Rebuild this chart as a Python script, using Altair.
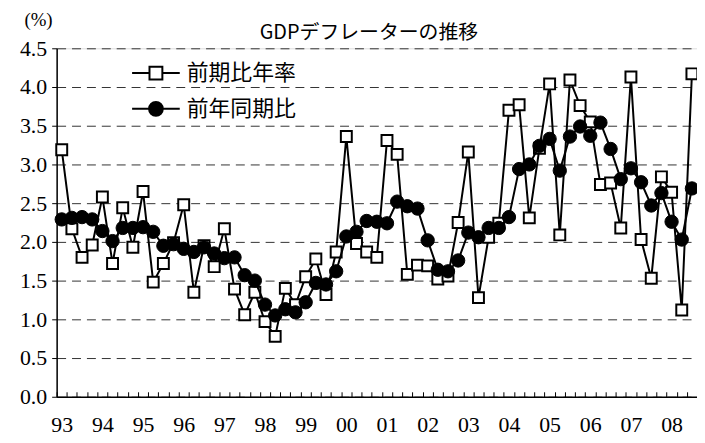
import json
import altair as alt
import pandas as pd

# ---- data ----
years = ["93", "94", "95", "96", "97", "98", "99", "00",
         "01", "02", "03", "04", "05", "06", "07", "08"]
quarters = [f"{y}Q{q}" for y in years for q in (1, 2, 3, 4)][:63]

series_names = ["前期比年率", "前年同期比"]

qoq_annual = [3.19, 2.17, 1.80, 1.96, 2.58, 1.72, 2.44, 1.93, 2.65, 1.48,
              1.72, 1.99, 2.48, 1.35, 1.95, 1.68, 2.17, 1.39, 1.06, 1.35,
              0.97, 0.78, 1.40, 1.19, 1.55, 1.78, 1.32, 1.87, 3.36, 1.98,
              1.87, 1.80, 3.31, 3.13, 1.58, 1.70, 1.69, 1.52, 1.56, 2.25,
              3.16, 1.28, 2.06, 2.24, 3.70, 3.77, 2.31, 3.21, 4.04, 2.09,
              4.09, 3.76, 3.55, 2.74, 2.76, 2.18, 4.13, 2.03, 1.53, 2.84,
              2.64, 1.12, 4.17]

yoy = [2.29, 2.31, 2.32, 2.29, 2.14, 2.01, 2.18, 2.18, 2.19, 2.13,
       1.95, 1.97, 1.91, 1.87, 1.93, 1.85, 1.79, 1.80, 1.57, 1.50,
       1.19, 1.05, 1.13, 1.09, 1.22, 1.47, 1.45, 1.62, 2.07, 2.13,
       2.27, 2.26, 2.24, 2.52, 2.46, 2.43, 2.02, 1.64, 1.62, 1.76,
       2.12, 2.06, 2.18, 2.18, 2.32, 2.94, 3.00, 3.24, 3.33, 2.92,
       3.36, 3.49, 3.37, 3.54, 3.20, 2.81, 2.95, 2.77, 2.47, 2.63,
       2.26, 2.03, 2.69]

y_ticks = [0.0, 0.5, 1.0, 1.5, 2.0, 2.5, 3.0, 3.5, 4.0, 4.5]

rows = []
for i, q in enumerate(quarters):
    rows.append({"idx": i, "quarter": q, "series": series_names[0], "value": qoq_annual[i]})
for i, q in enumerate(quarters):
    rows.append({"idx": i, "quarter": q, "series": series_names[1], "value": yoy[i]})
df = pd.DataFrame(rows)

n = len(quarters)
x_scale = alt.Scale(domain=[-0.5, n - 0.5], nice=False, zero=False)

label_axis = alt.Axis(
    values=list(range(0, n, 4)),
    labelExpr=f"{json.dumps(years)}[round(datum.value / 4)]",
    ticks=False, domain=True, domainColor="black", domainWidth=1.5,
    grid=False, title=None, orient="bottom",
    labelFont="Liberation Serif", labelFontSize=22, labelColor="black",
    labelPadding=18, labelAngle=0,
)
tick_axis = alt.Axis(
    values=[i - 0.5 for i in range(n + 1)],
    labels=False, domain=False, grid=False, title=None, orient="bottom",
    ticks=True, tickSize=5, tickColor="black", tickWidth=1, offset=-5,
)

y_enc = alt.Y(
    "value:Q",
    scale=alt.Scale(domain=[0, 4.5], nice=False),
    axis=alt.Axis(
        values=y_ticks, format=".1f",
        grid=True, gridDash=[9, 6], gridColor="#333333", gridWidth=1,
        domain=True, domainColor="black", domainWidth=1.5,
        ticks=True, tickSize=5, tickColor="black",
        labelFont="Liberation Serif", labelFontSize=22, labelColor="black",
        labelPadding=5,
        title="(%)", titleAngle=0, titleAlign="left", titleBaseline="middle",
        titleX=-33, titleY=-29, titleFont="Liberation Serif",
        titleFontSize=19, titleFontWeight="normal", titleColor="black",
    ),
)

base = alt.Chart(df)

s1 = alt.datum.series == series_names[0]
s2 = alt.datum.series == series_names[1]

line1 = base.transform_filter(s1).mark_line(color="black", strokeWidth=2).encode(
    x=alt.X("idx:Q", scale=x_scale, axis=label_axis), y=y_enc)
pts1 = base.transform_filter(s1).mark_point(
    shape="square", filled=True, fill="white", stroke="black", strokeWidth=2,
    size=121, opacity=1).encode(
    x=alt.X("idx:Q", scale=x_scale, axis=None), y=y_enc)
line2 = base.transform_filter(s2).mark_line(color="black", strokeWidth=2).encode(
    x=alt.X("idx:Q", scale=x_scale, axis=None), y=y_enc)
pts2 = base.transform_filter(s2).mark_point(
    shape="circle", filled=True, fill="black", stroke="black", strokeWidth=1,
    size=180, opacity=1).encode(
    x=alt.X("idx:Q", scale=x_scale, axis=None), y=y_enc)

sq_path = "M-1,0H-0.27M0.27,0H1M-0.27,-0.27H0.27V0.27H-0.27Z"
ci_path = ("M-1,0H-0.29M0.29,0H1M0.29,0A0.29,0.29 0 1,1 -0.29,0"
           "A0.29,0.29 0 1,1 0.29,0Z")

legend = alt.Legend(
    title=None, orient="none", legendX=75, legendY=0, padding=0,
    symbolSize=2304, symbolStrokeWidth=2, symbolStrokeColor="black",
    labelFont="Noto Sans CJK JP", labelFontSize=22, labelColor="black",
    labelOffset=6, rowPadding=-13, symbolOpacity=1,
)

legend_layer = base.transform_filter("datum.idx < 0").mark_point(
    filled=True, strokeWidth=2, opacity=1).encode(
    x=alt.X("idx:Q", scale=x_scale, axis=tick_axis),
    y=y_enc,
    shape=alt.Shape("series:N", scale=alt.Scale(domain=series_names, range=[sq_path, ci_path]),
                    legend=legend),
    fill=alt.Fill("series:N", scale=alt.Scale(domain=series_names, range=["white", "black"]),
                  legend=legend),
    stroke=alt.Stroke("series:N", scale=alt.Scale(domain=series_names, range=["black", "black"]),
                      legend=legend),
)

chart = alt.layer(line1, pts1, line2, pts2, legend_layer).resolve_axis(
    x="independent"
).properties(
    width=645, height=351,
    padding={"left": 49, "top": 39, "right": 0, "bottom": 45},
    autosize=alt.AutoSizeParams(type="none"),
    title=alt.TitleParams(
        "GDPデフレーターの推移", font="Noto Sans CJK JP", fontSize=20,
        fontWeight="normal", color="black", anchor="middle", frame="group",
        dx=-8, offset=-33,
    ),
).configure_view(stroke=None).configure(background="white")

chart.save("out.html", embed_options={"renderer": "svg", "actions": False})
